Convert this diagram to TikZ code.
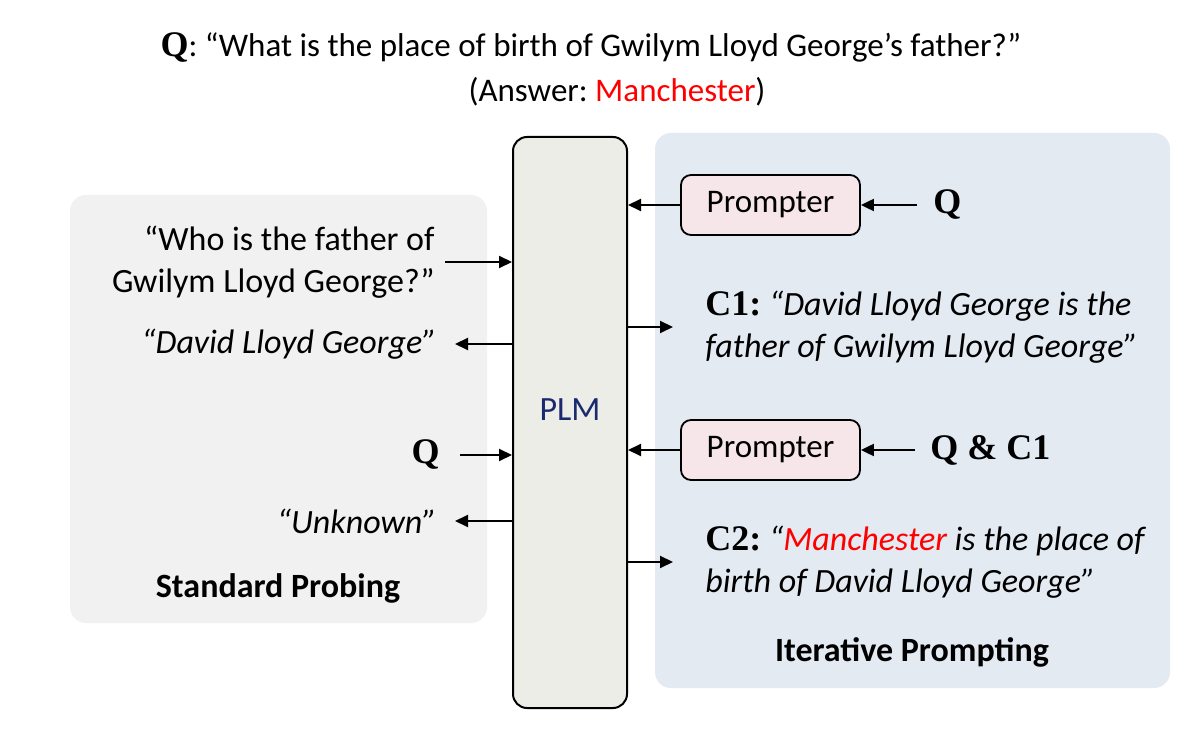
\documentclass[tikz,border=0pt]{standalone}
\usepackage{fontspec}
\setmainfont{Carlito}
\newfontfamily\qfont{Liberation Serif}
\usepackage{xcolor}
\usetikzlibrary{
  arrows.meta,
  positioning,
}
\definecolor{leftbg}{HTML}{F1F1F1}
\definecolor{rightbg}{HTML}{E3EAF2}
\definecolor{plmfill}{HTML}{EDEDE8}
\definecolor{prompterbg}{HTML}{F6E6EA}
\definecolor{plmblue}{HTML}{1B2A6E}
\definecolor{ansred}{HTML}{FF0000}
\newcommand{\qb}[1]{{\qfont\bfseries\fontsize{18}{21}\selectfont #1}}
\frenchspacing

\begin{document}
\begin{tikzpicture}[
    x=0.5pt, y=-0.5pt,
    every node/.style={font=\fontsize{17}{21}\selectfont, inner sep=0pt},
    panel/.style={rounded corners=8pt},
    plmbox/.style={draw, line width=1pt, rounded corners=7pt, fill=plmfill,
      minimum width=57pt, minimum height=285.5pt},
    prompter/.style={draw, line width=0.9pt, rounded corners=5pt, fill=prompterbg,
      minimum width=89.5pt, minimum height=30pt, font=\fontsize{16.5}{20}\selectfont},
    heading/.style={font=\fontsize{17}{21}\selectfont\bfseries},
    arr/.style={-{Triangle[length=6.5pt, width=6pt]}, line width=1pt},
  ]
  \useasboundingbox (0,0) rectangle (1200,732);

  % background panels
  \fill[leftbg, panel]  (70,195) rectangle (487,623);
  \fill[rightbg, panel] (655,133) rectangle (1170,688);

  % title
  \node[font=\fontsize{16.5}{20}\selectfont] (title) at (591,48)
    {\qb{Q}: “What is the place of birth of Gwilym Lloyd George’s father?”};
  \node[font=\fontsize{16.5}{20}\selectfont] (answer) at (617,92)
    {(Answer: \textcolor{ansred}{Manchester})};

  % language model
  \node[plmbox] (plm) at (570,422.5) {};
  \node[text=plmblue] (plmlabel) at (570,410) {PLM};

  % standard probing
  \node[anchor=east, align=right] (who) at (435,262) {“Who is the father of\\Gwilym Lloyd George?”};
  \node[anchor=east] (dlg) at (437,344) {\itshape “David Lloyd George”};
  \node[anchor=east] (qleft) at (440,455) {\qb{Q}};
  \node[anchor=east] (unk) at (437,521) {\itshape “Unknown”};
  \node[heading] (std) at (278,588) {Standard Probing};

  \draw[arr] ([xshift=5pt]who.east) -- (who.east -| plm.west);
  \draw[arr] (plm.west |- dlg.east) -- ([xshift=9pt]dlg.east);
  \draw[arr] ([xshift=10pt]qleft.east) -- (qleft.east -| plm.west);
  \draw[arr] (plm.west |- unk.east) -- ([xshift=9pt]unk.east);

  % iterative prompting
  \node[prompter] (pa) at (770.5,205) {Prompter};
  \node[anchor=west] (qa) at (933,205) {\qb{Q}};
  \node[anchor=west, align=left] (c1) at (705,327)
    {\qb{C1:} \itshape “David Lloyd George is the\\\itshape father of Gwilym Lloyd George”};
  \node[prompter] (pb) at (770.5,450) {Prompter};
  \node[anchor=west] (qb) at (930,450) {\qb{Q \& C1}};
  \node[anchor=west, align=left] (c2) at (705,562)
    {\qb{C2:} \itshape “\textcolor{ansred}{Manchester} is the place of\\\itshape birth of David Lloyd George”};
  \node[heading] (iter) at (912,652) {Iterative Prompting};

  \draw[arr] ([xshift=-8pt]qa.west) -- (pa.east);
  \draw[arr] (pa.west) -- (pa.west -| plm.east);
  \draw[arr] (plm.east |- c1.west) -- ([xshift=-16pt]c1.west);
  \draw[arr] ([xshift=-7.5pt]qb.west) -- (pb.east);
  \draw[arr] (pb.west) -- (pb.west -| plm.east);
  \draw[arr] (plm.east |- c2.west) -- ([xshift=-16pt]c2.west);
\end{tikzpicture}
\end{document}
